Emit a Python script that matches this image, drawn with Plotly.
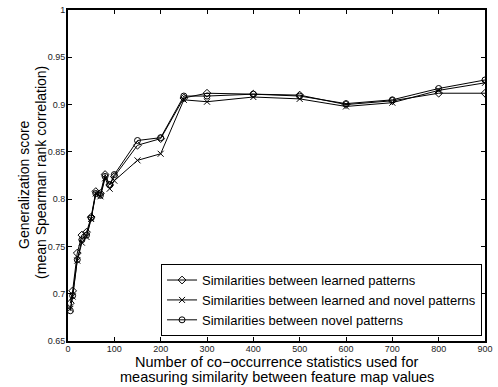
import plotly.graph_objects as go

x_vals = [5, 10, 20, 30, 40, 50, 60, 70, 80, 90, 100, 150, 200, 250, 300, 400, 500, 600, 700, 800, 900]
learned = [0.690, 0.703, 0.743, 0.762, 0.765, 0.781, 0.808, 0.806, 0.826, 0.815, 0.824, 0.857, 0.864, 0.907, 0.912, 0.911, 0.910, 0.900, 0.904, 0.912, 0.912]
learned_novel = [0.684, 0.697, 0.735, 0.754, 0.760, 0.779, 0.806, 0.803, 0.822, 0.811, 0.8195, 0.841, 0.848, 0.905, 0.903, 0.908, 0.906, 0.898, 0.902, 0.915, 0.923]
novel = [0.682, 0.698, 0.736, 0.757, 0.762, 0.780, 0.806, 0.804, 0.824, 0.815, 0.826, 0.862, 0.865, 0.909, 0.909, 0.911, 0.909, 0.901, 0.905, 0.917, 0.926]

names = ["Similarities between learned patterns",
         "Similarities between learned and novel patterns",
         "Similarities between novel patterns"]
symbols = ["diamond-open", "x-thin-open", "circle-open"]

x_ticks = [0, 100, 200, 300, 400, 500, 600, 700, 800, 900]
y_ticks = [0.65, 0.7, 0.75, 0.8, 0.85, 0.9, 0.95, 1.0]
y_ticktext = ["0.65", "0.7", "0.75", "0.8", "0.85", "0.9", "0.95", "1"]

x_title = ["Number of co\u2212occurrence statistics used for",
           "measuring similarity between feature map values"]
y_title = ["Generalization score", "(mean Spearman rank correlation)"]

fig = go.Figure()
for ys, nm, sym in zip([learned, learned_novel, novel], names, symbols):
    fig.add_trace(go.Scatter(
        x=x_vals, y=ys, name=nm, mode="lines+markers",
        line=dict(color="black", width=1),
        marker=dict(symbol=sym, size=6, color="black", line=dict(color="black", width=1)),
    ))

font_family = "Liberation Sans, Arial, sans-serif"
# plot area: x 68..491, y 5..341 (px)
L, R, T, B = 68, 491, 5, 341
W, H = R - L, B - T

def px_x(p):
    return (p - L) / W

def px_y(p):
    return (B - p) / H

annotations = [
    dict(text=x_title[0], x=0.5, y=px_y(362), xref="paper", yref="paper",
         xanchor="center", yanchor="middle", showarrow=False, font=dict(size=14.5)),
    dict(text=x_title[1], x=0.5, y=px_y(377.5), xref="paper", yref="paper",
         xanchor="center", yanchor="middle", showarrow=False, font=dict(size=14.5)),
    dict(text=y_title[0], x=px_x(24), y=px_y(182), xref="paper", yref="paper",
         xanchor="center", yanchor="middle", showarrow=False, textangle=-90, font=dict(size=14)),
    dict(text=y_title[1], x=px_x(40), y=px_y(170), xref="paper", yref="paper",
         xanchor="center", yanchor="middle", showarrow=False, textangle=-90, font=dict(size=14)),
]

fig.update_layout(
    width=498, height=387,
    margin=dict(l=L, r=498 - R, t=T, b=387 - B),
    paper_bgcolor="white", plot_bgcolor="white",
    font=dict(family=font_family, color="black"),
    showlegend=True,
    annotations=annotations,
    legend=dict(
        x=px_x(488), y=px_y(336), xanchor="right", yanchor="bottom",
        bgcolor="white", bordercolor="black", borderwidth=1,
        font=dict(size=13, family=font_family, color="black"),
        tracegroupgap=0, itemwidth=30,
    ),
)
fig.update_xaxes(
    range=[0, 900], tickvals=x_ticks, ticktext=[str(v) for v in x_ticks],
    ticks="inside", ticklen=4, tickwidth=1, tickcolor="black",
    showline=True, linecolor="black", linewidth=2, mirror="ticks",
    showgrid=False, zeroline=False, ticklabeloverflow="allow",
    ticklabelstandoff=-2,
    tickfont=dict(size=9, color="#222222"),
)
fig.update_yaxes(
    range=[0.65, 1.0], tickvals=y_ticks, ticktext=y_ticktext,
    ticks="inside", ticklen=4, tickwidth=1, tickcolor="black",
    showline=True, linecolor="black", linewidth=2, mirror="ticks",
    showgrid=False, zeroline=False, ticklabelstandoff=-1,
    tickfont=dict(size=9, color="#222222"),
)

fig.write_html("out.html")
